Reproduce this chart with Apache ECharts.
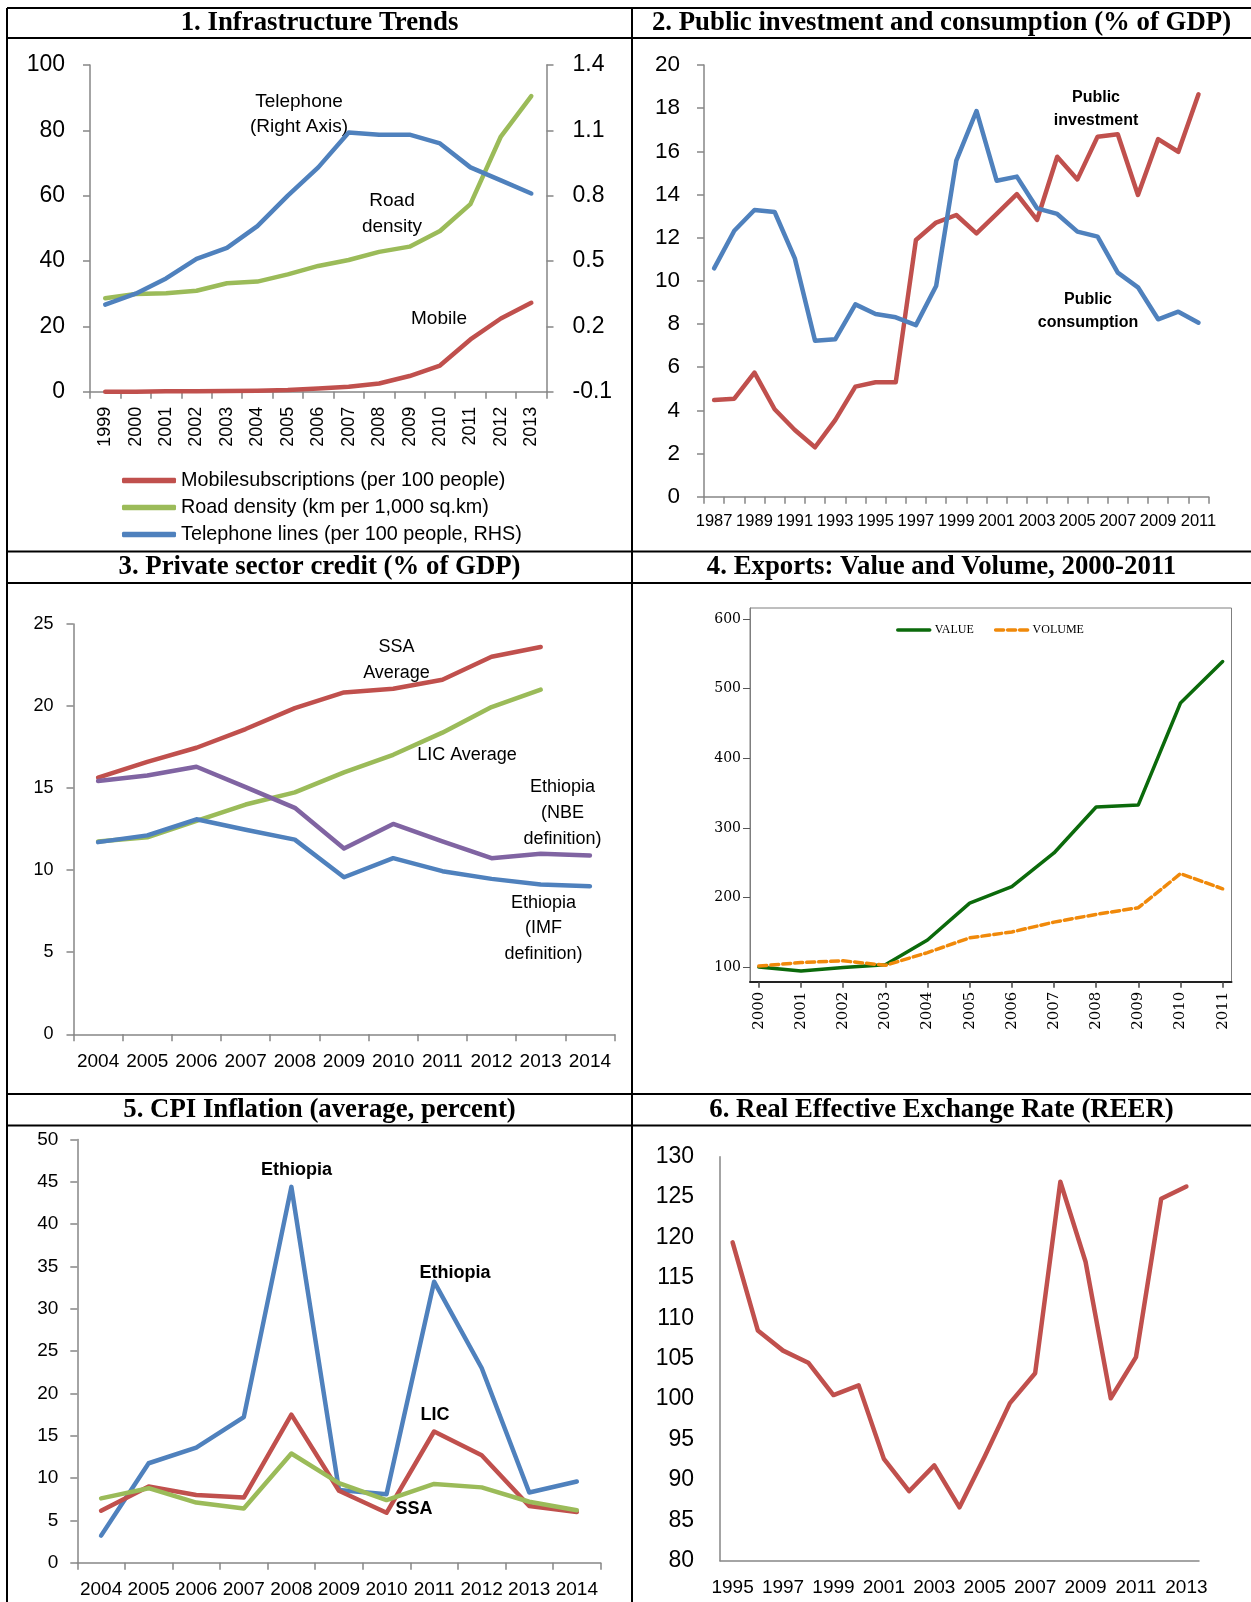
<!DOCTYPE html>
<html>
<head>
<meta charset="utf-8">
<title>Infrastructure, finance, trade and prices</title>
<script src="https://cdn.jsdelivr.net/npm/echarts@6/dist/echarts.min.js"></script>
<style>
  html, body { margin: 0; padding: 0; background: #fff; }
  #chart { width: 1251px; height: 1602px; }
</style>
</head>
<body>
<div id="chart"></div>
<script>
// 1. Infrastructure trends
const infraYears = ['1999', '2000', '2001', '2002', '2003', '2004', '2005', '2006', '2007', '2008', '2009', '2010', '2011', '2012', '2013'];
const mobileSubs = [0, 0, 0.1, 0.1, 0.2, 0.3, 0.5, 1.0, 1.5, 2.5, 4.8, 8.0, 16.0, 22.4, 27.2];
const roadDensity = [28.6, 29.9, 30.1, 30.9, 33.2, 33.7, 35.9, 38.5, 40.3, 42.8, 44.4, 49.2, 57.4, 78.1, 90.5];
const telephoneLines = [0.30, 0.35, 0.42, 0.51, 0.56, 0.66, 0.80, 0.93, 1.09, 1.08, 1.08, 1.04, 0.93, 0.87, 0.81];
const telephoneTicks = [-0.1, 0.2, 0.5, 0.8, 1.1, 1.4];

// 2. Public investment and consumption
const pubYears = ['1987', '1988', '1989', '1990', '1991', '1992', '1993', '1994', '1995', '1996', '1997', '1998', '1999', '2000', '2001', '2002', '2003', '2004', '2005', '2006', '2007', '2008', '2009', '2010', '2011'];
const publicInvestment = [4.48, 4.54, 5.75, 4.05, 3.09, 2.29, 3.55, 5.1, 5.3, 5.3, 11.89, 12.7, 13.05, 12.2, 13.1, 14.02, 12.82, 15.75, 14.7, 16.68, 16.79, 13.98, 16.57, 15.98, 18.64];
const publicConsumption = [10.58, 12.32, 13.28, 13.19, 11.04, 7.23, 7.29, 8.91, 8.46, 8.31, 7.95, 9.76, 15.57, 17.87, 14.64, 14.83, 13.36, 13.1, 12.28, 12.05, 10.38, 9.7, 8.22, 8.57, 8.06];

// 3. Private sector credit
const creditYears = ['2004', '2005', '2006', '2007', '2008', '2009', '2010', '2011', '2012', '2013', '2014'];
const ssaCredit = [15.64, 16.6, 17.46, 18.6, 19.87, 20.83, 21.05, 21.6, 23.0, 23.6, null];
const licCredit = [11.75, 12.0, 13.0, 14.0, 14.74, 15.96, 17.03, 18.38, 19.94, 21.0, null];
const nbeCredit = [15.43, 15.77, 16.3, 15.06, 13.8, 11.32, 12.82, 11.75, 10.73, 11.0, 10.9];
const imfCredit = [11.71, 12.12, 13.1, 12.46, 11.86, 9.57, 10.73, 9.94, 9.47, 9.13, 9.02];

// 4. Exports: value and volume
const exportYears = [2000, 2001, 2002, 2003, 2004, 2005, 2006, 2007, 2008, 2009, 2010, 2011];
const exportValue = [100, 94.5, 99.5, 103.5, 139, 192, 215.5, 264, 330, 333, 479.5, 539];
const exportVolume = [101.5, 106.5, 109, 102.5, 120.8, 142, 150.5, 164.6, 175.7, 185.3, 234.2, 212.5];
const exportTicks = [100, 200, 300, 400, 500, 600];

// 5. CPI inflation
const cpiYears = ['2004', '2005', '2006', '2007', '2008', '2009', '2010', '2011', '2012', '2013', '2014'];
const cpiEthiopia = [3.2, 11.75, 13.6, 17.2, 44.4, 8.6, 8.1, 33.2, 23.0, 8.3, 9.6];
const cpiLIC = [6.15, 9.0, 8.0, 7.7, 17.5, 8.5, 5.9, 15.5, 12.7, 6.7, 6.0];
const cpiSSA = [7.6, 8.8, 7.1, 6.4, 12.9, 9.4, 7.4, 9.3, 8.9, 7.2, 6.2];

// 6. REER
const reerYears = ['1995', '1996', '1997', '1998', '1999', '2000', '2001', '2002', '2003', '2004', '2005', '2006', '2007', '2008', '2009', '2010', '2011', '2012', '2013'];
const reer = [119.4, 108.5, 106, 104.5, 100.5, 101.7, 92.6, 88.6, 91.8, 86.6, 92.9, 99.5, 103.2, 126.9, 117, 100.1, 105.2, 124.8, 126.3];

const sans = '"Liberation Sans", Arial, sans-serif';
const serif = '"Liberation Serif", "Times New Roman", serif';
const axisGray = '#868686';
const RED = '#C0504D', GREEN = '#9BBB59', BLUE = '#4F81BD', PURPLE = '#8064A2';

function catAxis(gridIndex, data, label, tick) {
  return {
    type: 'category', gridIndex: gridIndex, data: data, boundaryGap: true,
    axisLine: { lineStyle: { color: axisGray, width: 1.5 } },
    axisTick: Object.assign({ show: true, length: 7, interval: 0, lineStyle: { color: axisGray, width: 1.5 } }, tick),
    axisLabel: Object.assign({ color: '#000', fontFamily: sans, interval: 0 }, label),
    splitLine: { show: false }
  };
}

function valAxis(gridIndex, min, max, interval, label, extra) {
  return Object.assign({
    type: 'value', gridIndex: gridIndex, min: min, max: max, interval: interval,
    axisLine: { show: true, lineStyle: { color: axisGray, width: 1.5 } },
    axisTick: { show: true, length: 7, lineStyle: { color: axisGray, width: 1.5 } },
    axisLabel: Object.assign({ color: '#000', fontFamily: sans }, label),
    splitLine: { show: false }
  }, extra);
}

function line(name, data, color, xi, yi, width, dash) {
  return {
    name: name, type: 'line', data: data, xAxisIndex: xi, yAxisIndex: yi,
    symbol: 'none', smooth: false, connectNulls: false,
    lineStyle: { color: color, width: width || 4.5, type: dash || 'solid', cap: 'round', join: 'round' },
    itemStyle: { color: color },
    emphasis: { disabled: true }
  };
}

function hLine(y, x1, x2) {
  return { type: 'line', shape: { x1: x1, y1: y, x2: x2, y2: y }, style: { stroke: '#000', lineWidth: 2 } };
}
function vLine(x, y1, y2) {
  return { type: 'line', shape: { x1: x, y1: y1, x2: x, y2: y2 }, style: { stroke: '#000', lineWidth: 2 } };
}
function header(text, x, y) {
  return { type: 'text', style: { text: text, x: x, y: y, align: 'center', verticalAlign: 'middle',
    fontFamily: serif, fontWeight: 'bold', fontSize: 26.8, fill: '#000' } };
}
function note(text, x, y, size, bold, lh) {
  return { type: 'text', style: { text: text, x: x, y: y, align: 'center', verticalAlign: 'middle',
    fontFamily: sans, fontWeight: bold ? 'bold' : 'normal', fontSize: size, lineHeight: lh || size + 6, fill: '#000' } };
}

const exportValuePts = exportYears.map((y, i) => [y, exportValue[i]]);
const exportVolumePts = exportYears.map((y, i) => [y, exportVolume[i]]);

const option = {
  animation: false,
  backgroundColor: '#fff',
  grid: [
    { left: 90, top: 65, width: 456.5, height: 326.7, outerBoundsMode: 'none' },
    { left: 704, top: 65, width: 504.6, height: 431.7, outerBoundsMode: 'none' },
    { left: 73.5, top: 624, width: 541, height: 410.3, outerBoundsMode: 'none' },
    { left: 750, top: 608, width: 481.5, height: 373.7, show: true, borderColor: '#7f7f7f', borderWidth: 1, outerBoundsMode: 'none' },
    { left: 77.3, top: 1139.5, width: 523.3, height: 423.2, outerBoundsMode: 'none' },
    { left: 720, top: 1156.7, width: 479, height: 404, outerBoundsMode: 'none' }
  ],
  xAxis: [
    catAxis(0, infraYears, { rotate: 90, fontSize: 18, margin: 15 }),
    catAxis(1, pubYears, { fontSize: 16.5, margin: 16, interval: 1 }),
    catAxis(2, creditYears, { fontSize: 19, margin: 18 }),
    {
      type: 'value', gridIndex: 3, min: 1999.79, max: 2011.21,
      axisLine: { lineStyle: { color: '#222', width: 2 } },
      axisTick: { show: true, length: 6, customValues: exportYears, lineStyle: { color: '#444', width: 1.5 } },
      axisLabel: { customValues: exportYears, rotate: 90, fontFamily: '"DejaVu Serif", serif', fontSize: 15, color: '#000', margin: 10, formatter: v => String(v) },
      splitLine: { show: false }
    },
    catAxis(4, cpiYears, { fontSize: 19, margin: 18 }),
    catAxis(5, reerYears, { fontSize: 19, margin: 18, interval: 1 }, { show: false })
  ],
  yAxis: [
    valAxis(0, 0, 100, 20, { fontSize: 23, margin: 25 }),
    valAxis(0, -0.1, 1.4, null, { fontSize: 23, margin: 26, customValues: telephoneTicks, formatter: v => v.toFixed(1) },
      { position: 'right', alignTicks: false, axisTick: { show: true, length: 7, customValues: telephoneTicks, lineStyle: { color: axisGray, width: 1.5 } } }),
    valAxis(1, 0, 20, 2, { fontSize: 22.5, margin: 24 }),
    valAxis(2, 0, 25, 5, { fontSize: 18, margin: 20 }),
    valAxis(3, 79, 616, null, { customValues: exportTicks, fontFamily: '"DejaVu Serif", serif', fontSize: 14, margin: 9 },
      { axisLine: { show: true, lineStyle: { color: '#7f7f7f', width: 1 } },
        axisTick: { show: true, length: 7, customValues: exportTicks, lineStyle: { color: '#555', width: 1 } } }),
    valAxis(4, 0, 50, 5, { fontSize: 19, margin: 19 }),
    valAxis(5, 80, 130, 5, { fontSize: 23, margin: 26 }, { axisTick: { show: false } })
  ],
  legend: [
    {
      data: ['Mobilesubscriptions (per 100 people)', 'Road density (km per 1,000 sq.km)', 'Telephone lines (per 100 people, RHS)'],
      orient: 'vertical', left: 122, top: 470.5, padding: 0, icon: 'roundRect',
      itemWidth: 54, itemHeight: 5.5, itemGap: 7,
      textStyle: { fontSize: 19.8, lineHeight: 20, color: '#000', fontFamily: sans },
      selectedMode: false
    },
    {
      data: ['VALUE', 'VOLUME'],
      orient: 'horizontal', left: 896, top: 624, padding: 0, itemWidth: 32, itemHeight: 4, itemGap: 20,
      itemStyle: { opacity: 0 },
      lineStyle: { width: 3.5 },
      textStyle: { fontSize: 12, color: '#000', fontFamily: serif },
      selectedMode: false
    }
  ],
  series: [
    line('Mobilesubscriptions (per 100 people)', mobileSubs, RED, 0, 0),
    line('Road density (km per 1,000 sq.km)', roadDensity, GREEN, 0, 0),
    line('Telephone lines (per 100 people, RHS)', telephoneLines, BLUE, 0, 1),

    line('Public investment', publicInvestment, RED, 1, 2),
    line('Public consumption', publicConsumption, BLUE, 1, 2),

    line('SSA Average', ssaCredit, RED, 2, 3),
    line('LIC Average', licCredit, GREEN, 2, 3),
    line('Ethiopia (NBE definition)', nbeCredit, PURPLE, 2, 3),
    line('Ethiopia (IMF definition)', imfCredit, BLUE, 2, 3),

    line('VALUE', exportValuePts, '#0b6a0b', 3, 4, 3.5),
    line('VOLUME', exportVolumePts, '#f0890a', 3, 4, 3.5, [8, 4]),

    line('Ethiopia CPI', cpiEthiopia, BLUE, 4, 5),
    line('LIC CPI', cpiLIC, RED, 4, 5),
    line('SSA CPI', cpiSSA, GREEN, 4, 5),

    line('REER', reer, RED, 5, 6)
  ],
  graphic: [
    hLine(8, 7, 1251), hLine(38, 7, 1251),
    hLine(551.5, 7, 1251), hLine(583, 7, 1251),
    hLine(1094, 7, 1251), hLine(1125.5, 7, 1251),
    vLine(7, 8, 1602), vLine(632, 8, 1602),

    header('1. Infrastructure Trends', 319.5, 23),
    header('2. Public investment and consumption (% of GDP)', 941.5, 23),
    header('3. Private sector credit (% of GDP)', 319.5, 567),
    header('4. Exports: Value and Volume, 2000-2011', 941.5, 567),
    header('5. CPI Inflation (average, percent)', 319.5, 1110),
    header('6. Real Effective Exchange Rate (REER)', 941.5, 1110),

    note('Telephone\n(Right Axis)', 299, 114.5, 19, false, 25.5),
    note('Road\ndensity', 392, 214, 19, false, 26),
    note('Mobile', 439, 319, 19),

    note('Public\ninvestment', 1096, 109.5, 16, true, 23),
    note('Public\nconsumption', 1088, 311.5, 16, true, 23),

    note('SSA\nAverage', 396.5, 660, 18, false, 26),
    note('LIC Average', 467, 755.5, 18),
    note('Ethiopia\n(NBE\ndefinition)', 562.5, 813, 18, false, 26),
    note('Ethiopia\n(IMF\ndefinition)', 543.5, 928.5, 18, false, 25.5),

    note('Ethiopia', 296.5, 1170, 18, true),
    note('Ethiopia', 455, 1273, 18, true),
    note('LIC', 435, 1415, 18, true),
    note('SSA', 414, 1509, 18, true)
  ]
};

const chart = echarts.init(document.getElementById('chart'), null, { renderer: 'canvas' });
chart.setOption(option);
window.addEventListener('resize', () => chart.resize());
</script>
</body>
</html>
